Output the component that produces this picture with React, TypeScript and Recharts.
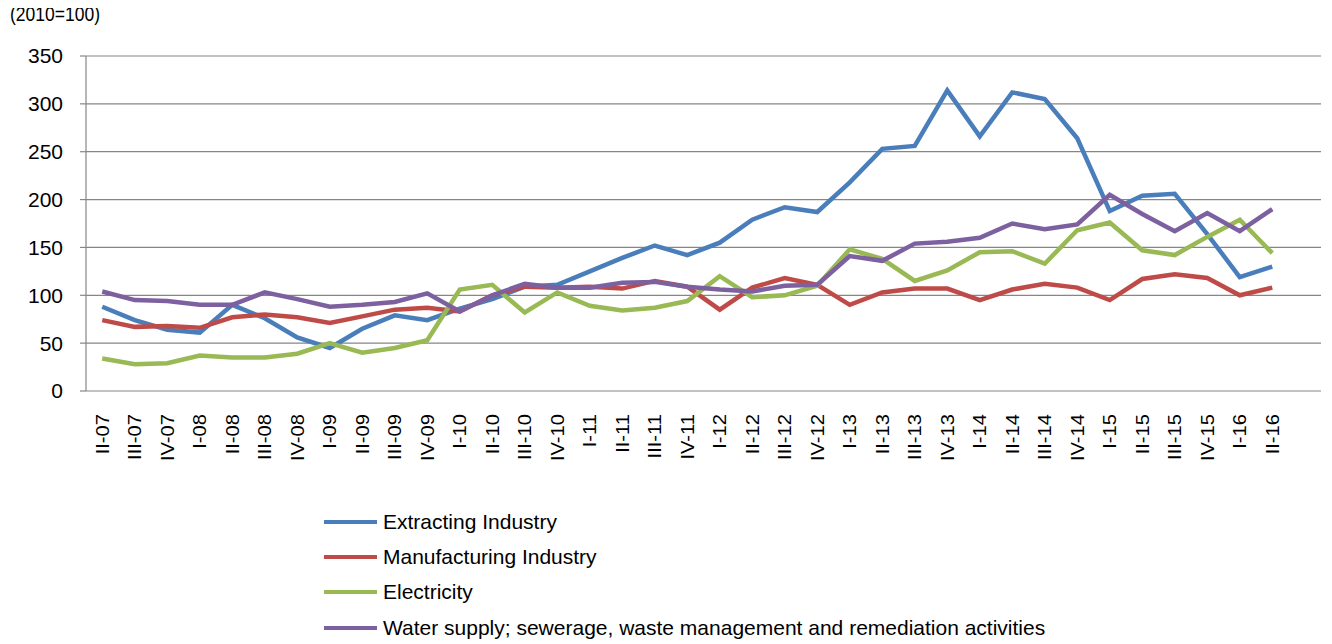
import { LineChart, Line, XAxis, YAxis, CartesianGrid, Legend } from 'recharts'

const quarters = [
  'II-07', 'III-07', 'IV-07', 'I-08', 'II-08', 'III-08', 'IV-08', 'I-09', 'II-09', 'III-09', 'IV-09',
  'I-10', 'II-10', 'III-10', 'IV-10', 'I-11', 'II-11', 'III-11', 'IV-11', 'I-12', 'II-12', 'III-12', 'IV-12',
  'I-13', 'II-13', 'III-13', 'IV-13', 'I-14', 'II-14', 'III-14', 'IV-14', 'I-15', 'II-15', 'III-15', 'IV-15',
  'I-16', 'II-16',
]

const extracting = [
  88, 74, 64, 61, 90, 76, 56, 45, 65, 79, 74,
  86, 96, 109, 111, 125, 139, 152, 142, 155, 179, 192, 187,
  218, 253, 256, 314, 266, 312, 305, 264, 188, 204, 206, 164,
  119, 130,
]
const manufacturing = [
  74, 67, 68, 66, 77, 80, 77, 71, 78, 85, 87,
  83, 100, 109, 108, 109, 107, 115, 109, 85, 108, 118, 111,
  90, 103, 107, 107, 95, 106, 112, 108, 95, 117, 122, 118,
  100, 108,
]
const electricity = [
  34, 28, 29, 37, 35, 35, 39, 50, 40, 45, 53,
  106, 111, 82, 103, 89, 84, 87, 94, 120, 98, 100, 110,
  148, 138, 115, 126, 145, 146, 133, 168, 176, 147, 142, 161,
  179, 144,
]
const water = [
  104, 95, 94, 90, 90, 103, 96, 88, 90, 93, 102,
  83, 100, 112, 108, 108, 113, 114, 109, 106, 104, 110, 111,
  141, 136, 154, 156, 160, 175, 169, 174, 205, 185, 167, 186,
  167, 190,
]

const yTicks = [0, 50, 100, 150, 200, 250, 300, 350]

const SERIES = [
  { key: 'extracting', name: 'Extracting Industry', color: '#4A7EBB' },
  { key: 'manufacturing', name: 'Manufacturing Industry', color: '#BE4B48' },
  { key: 'electricity', name: 'Electricity', color: '#98B954' },
  { key: 'water', name: 'Water supply; sewerage, waste management and remediation activities', color: '#7D60A0' },
]

const data = quarters.map((q, i) => ({
  q,
  extracting: extracting[i],
  manufacturing: manufacturing[i],
  electricity: electricity[i],
  water: water[i],
}))

// one slot more than the data: the axis runs one empty category past II-16
const slotCount = quarters.length + 1
const boundaryTicks = Array.from({ length: slotCount + 1 }, (_, i) => i)

const FONT = '"Liberation Sans", Arial, sans-serif'
const AXIS = '#868686'

function QuarterTick({ x, y, payload }: any) {
  return (
    <g transform={`translate(${x},${y + 23}) rotate(-90) scale(1.12,1)`}>
      <text x={0} y={0} dy="0.36em" textAnchor="end" fontSize={18} fill="#000" fontFamily={FONT}>
        {payload.value}
      </text>
    </g>
  )
}

function SeriesLegend() {
  return (
    <div style={{ fontFamily: FONT, fontSize: 21, color: '#000' }}>
      {SERIES.map(s => (
        <div key={s.key} style={{ display: 'flex', alignItems: 'center', height: 35.3 }}>
          <span style={{ width: 53, height: 4, background: s.color, marginRight: 6, display: 'inline-block' }} />
          <span style={{ whiteSpace: 'nowrap' }}>{s.name}</span>
        </div>
      ))}
    </div>
  )
}

export default function App() {
  return (
    <div style={{ position: 'relative', width: 1316, height: 636, fontFamily: FONT }}>
      <div
        style={{
          position: 'absolute', left: 2, top: -3, fontSize: 17.5, lineHeight: 1,
          transform: 'scaleY(1.15)', transformOrigin: 'top left', color: '#000', zIndex: 1,
        }}
      >
        (2010=100)
      </div>
      <LineChart width={1316} height={636} data={data} margin={{ top: 48, right: 3, bottom: 183, left: 0 }}>
        <CartesianGrid vertical={false} stroke={AXIS} strokeWidth={1.2} xAxisId={1} />
        <XAxis
          xAxisId={0}
          type="number"
          domain={[0, slotCount]}
          allowDataOverflow
          ticks={boundaryTicks}
          tick={false}
          tickSize={6}
          height={0}
          stroke={AXIS}
          strokeWidth={1.2}
        />
        <XAxis
          xAxisId={1}
          dataKey="q"
          interval={0}
          padding={{ left: 16.25, right: 48.75 }}
          axisLine={false}
          tickLine={false}
          tickSize={0}
          tickMargin={0}
          height={70}
          tick={<QuarterTick />}
        />
        <YAxis
          domain={[0, 350]}
          ticks={yTicks}
          width={78}
          tickSize={6}
          tickMargin={17}
          stroke={AXIS}
          strokeWidth={1.2}
          tick={{ fontSize: 21, fill: '#000', fontFamily: FONT }}
        />
        <Legend
          layout="vertical"
          align="center"
          verticalAlign="middle"
          wrapperStyle={{ position: 'absolute', left: 316, top: 496, width: 'auto' }}
          content={<SeriesLegend />}
        />
        {SERIES.map(s => (
          <Line
            key={s.key}
            xAxisId={1}
            type="linear"
            dataKey={s.key}
            name={s.name}
            stroke={s.color}
            strokeWidth={4.5}
            dot={false}
            activeDot={false}
            isAnimationActive={false}
          />
        ))}
      </LineChart>
    </div>
  )
}
